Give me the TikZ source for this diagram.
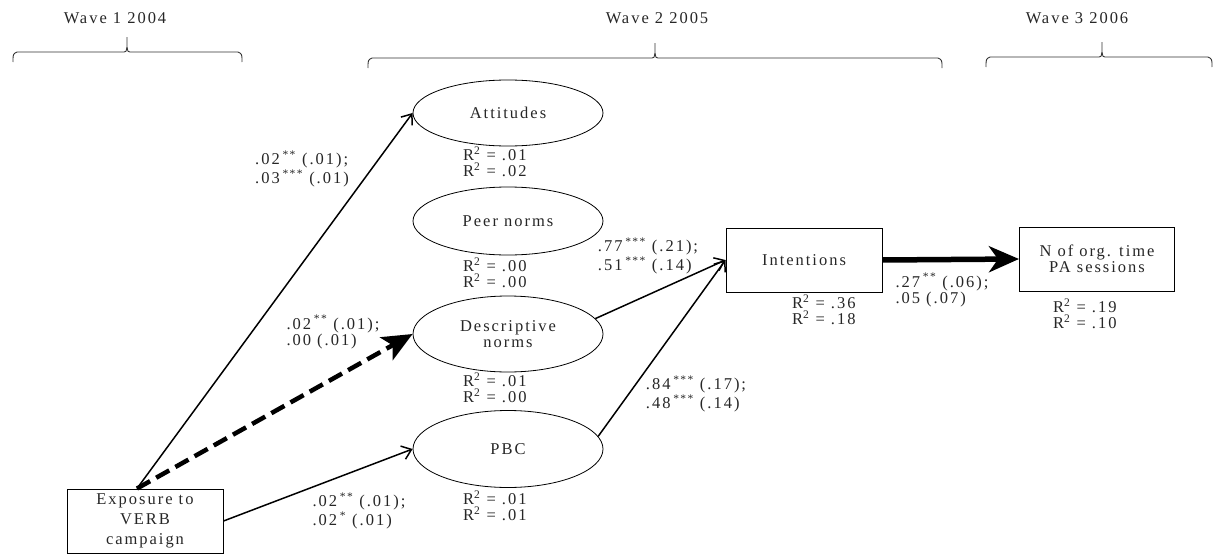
\documentclass[tikz,border=0pt]{standalone}
\usepackage{fontspec}
\setmainfont{Liberation Serif}[LetterSpace=12]
\usepackage{tikz}
\usetikzlibrary{arrows.meta,positioning,shapes.geometric}
\tikzset{
  semtext/.style={font=\fontsize{16.5}{16}\selectfont,text=black!85,inner sep=0pt},
  semoval/.style={ellipse,draw,line width=0.8pt,semtext,align=center,
    minimum width=190pt},
  sembox/.style={rectangle,draw,line width=1pt,semtext,align=center,
    minimum width=156pt,minimum height=64pt},
  semlabel/.style={semtext,align=left},
  semrsq/.style={semtext,align=left,anchor=west},
  semarr/.style={-{Straight Barb[length=9pt,width=14pt]},line width=1.5pt},
  semdash/.style={-{Stealth[length=30pt,width=26pt,inset=7pt]},line width=4.5pt,
    dash pattern=on 15pt off 7pt},
  semthick/.style={-{Stealth[length=30pt,width=26pt,inset=9pt]},line width=5.5pt},
  wavehead/.style={semtext},
  wavebrace/.style={line width=0.9pt,draw=black!80},
}
% bracket over one wave: left x, right x, tip x, line y
\newcommand{\wavebracket}[4]{%
  \draw[wavebrace] (#1,#4+10) .. controls (#1,#4+2) .. (#1+4,#4) -- (#3-3,#4)
    .. controls (#3-1,#4) .. (#3,#4-5) -- (#3,#4-15)
    (#3,#4-5) .. controls (#3+1,#4) .. (#3+3,#4) -- (#2-4,#4)
    .. controls (#2,#4+2) .. (#2,#4+10);}
\begin{document}
\begin{tikzpicture}[x=1pt,y=-1pt]
  \useasboundingbox (0,0) rectangle (1216,554);
  % wave headings
  \node[wavehead] (w1) at (115,18) {Wave 1 2004};
  \node[wavehead] (w2) at (657,18) {Wave 2 2005};
  \node[wavehead] (w3) at (1077,18) {Wave 3 2006};
  \wavebracket{13}{242}{127}{52}
  \wavebracket{368}{942}{655}{58}
  \wavebracket{986}{1212}{1102}{57}
  % observed and latent variables
  \node[sembox,font=\fontsize{16.5}{20}\selectfont] (expo) at (145,521) {Exposure to\\VERB\\campaign};
  \node[semoval,minimum height=66pt] (att)  at (508,113) {Attitudes};
  \node[semoval,minimum height=68pt] (peer) at (508,221) {Peer norms};
  \node[semoval,minimum height=76pt] (desc) at (508,334) {Descriptive\\norms};
  \node[semoval,minimum height=77pt] (pbc)  at (508,449) {PBC};
  \node[sembox] (int)  at (804,260) {Intentions};
  \node[sembox,minimum width=155pt] (norg) at (1097,259) {N of org. time\\PA sessions};
  % explained variance
  \node[semrsq] (attR)  at (463,162) {R\textsuperscript{2} = .01\\R\textsuperscript{2} = .02};
  \node[semrsq] (peerR) at (463,273) {R\textsuperscript{2} = .00\\R\textsuperscript{2} = .00};
  \node[semrsq] (descR) at (463,388) {R\textsuperscript{2} = .01\\R\textsuperscript{2} = .00};
  \node[semrsq] (pbcR)  at (463,506) {R\textsuperscript{2} = .01\\R\textsuperscript{2} = .01};
  \node[semrsq] (intR)  at (792,310) {R\textsuperscript{2} = .36\\R\textsuperscript{2} = .18};
  \node[semrsq] (norgR) at (1053,314) {R\textsuperscript{2} = .19\\R\textsuperscript{2} = .10};
  % paths
  \draw[semarr] ([xshift=-8pt]expo.north) -- (att.west);
  \draw[semdash] ([xshift=-8pt]expo.north) -- (desc.west);
  \draw[semarr] (expo.east) -- (pbc.west);
  \draw[semarr] (desc.10) -- (int.west);
  \draw[semarr] (pbc.8) -- (int.west);
  \draw[semthick] (int.east) -- (norg.west);
  % path coefficients
  \node[semlabel] (attC)  at (302,169) {.02\,\textsuperscript{**} (.01);\\.03\,\textsuperscript{***} (.01)};
  \node[semlabel] (descC) at (333,332) {.02\,\textsuperscript{**} (.01);\\.00 (.01)};
  \node[semlabel] (pbcC)  at (359,511) {.02\,\textsuperscript{**} (.01);\\.02\,\textsuperscript{*} (.01)};
  \node[semlabel] (dintC) at (648,256) {.77\,\textsuperscript{***} (.21);\\.51\,\textsuperscript{***} (.14)};
  \node[semlabel] (pintC) at (696,394) {.84\,\textsuperscript{***} (.17);\\.48\,\textsuperscript{***} (.14)};
  \node[semlabel] (norgC) at (942,290) {.27\,\textsuperscript{**} (.06);\\.05 (.07)};
\end{tikzpicture}
\end{document}
